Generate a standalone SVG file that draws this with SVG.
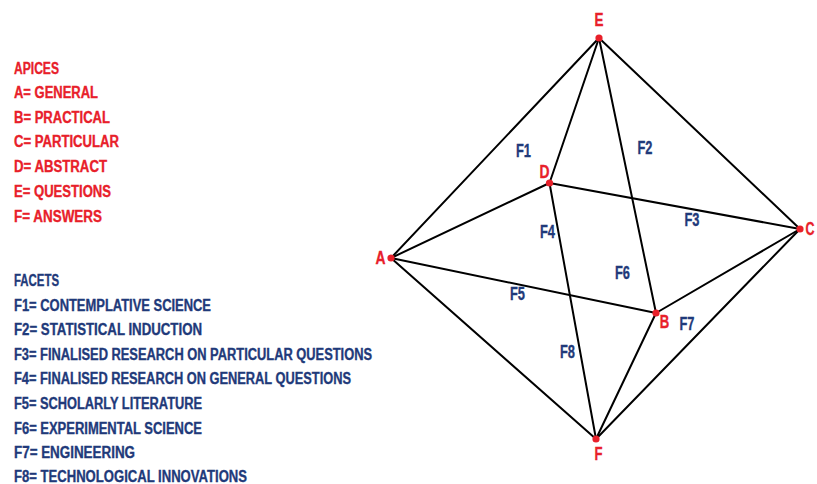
<svg xmlns="http://www.w3.org/2000/svg" width="817" height="484" viewBox="0 0 817 484">
<style>
text{font-family:"Liberation Sans",Arial,sans-serif;font-weight:bold;stroke-width:0.35px}
.r{fill:#e8202a;stroke:#e8202a}
.b{fill:#1f3a7a;stroke:#1f3a7a}
.lg{font-size:16px}
.vl{font-size:18px;text-anchor:middle}
.fl{font-size:18px;text-anchor:middle}
.e{stroke:#000;stroke-width:2;fill:none;stroke-linecap:round}
.dot{fill:#e8202a}
</style>
<rect width="817" height="484" fill="#fff"/>
<g id="legend-apices" class="r lg">
<text x="14" y="73.5" textLength="45" lengthAdjust="spacingAndGlyphs">APICES</text>
<text x="14" y="98.3" textLength="84" lengthAdjust="spacingAndGlyphs">A= GENERAL</text>
<text x="14" y="122.7" textLength="96" lengthAdjust="spacingAndGlyphs">B= PRACTICAL</text>
<text x="14" y="147" textLength="105" lengthAdjust="spacingAndGlyphs">C= PARTICULAR</text>
<text x="14" y="171.7" textLength="93" lengthAdjust="spacingAndGlyphs">D= ABSTRACT</text>
<text x="14" y="196.5" textLength="97" lengthAdjust="spacingAndGlyphs">E= QUESTIONS</text>
<text x="14" y="221.5" textLength="88" lengthAdjust="spacingAndGlyphs">F= ANSWERS</text>
</g>
<g id="legend-facets" class="b lg">
<text x="14" y="286" textLength="45" lengthAdjust="spacingAndGlyphs">FACETS</text>
<text x="14" y="310.7" textLength="197" lengthAdjust="spacingAndGlyphs">F1= CONTEMPLATIVE SCIENCE</text>
<text x="14" y="335.2" textLength="188" lengthAdjust="spacingAndGlyphs">F2= STATISTICAL INDUCTION</text>
<text x="14" y="359.8" textLength="358" lengthAdjust="spacingAndGlyphs">F3= FINALISED RESEARCH ON PARTICULAR QUESTIONS</text>
<text x="14" y="384.4" textLength="337" lengthAdjust="spacingAndGlyphs">F4= FINALISED RESEARCH ON GENERAL QUESTIONS</text>
<text x="14" y="409" textLength="188" lengthAdjust="spacingAndGlyphs">F5= SCHOLARLY LITERATURE</text>
<text x="14" y="433.6" textLength="188" lengthAdjust="spacingAndGlyphs">F6= EXPERIMENTAL SCIENCE</text>
<text x="14" y="458.2" textLength="121" lengthAdjust="spacingAndGlyphs">F7= ENGINEERING</text>
<text x="14" y="481.8" textLength="233" lengthAdjust="spacingAndGlyphs">F8= TECHNOLOGICAL INNOVATIONS</text>
</g>
<g id="connectors">
<line class="e" x1="599" y1="38" x2="391" y2="258"/>
<line class="e" x1="599" y1="38" x2="549.5" y2="183" stroke-width="2.6"/>
<line class="e" x1="599" y1="38" x2="656" y2="313"/>
<line class="e" x1="599" y1="38" x2="800" y2="229"/>
<line class="e" x1="391" y1="258" x2="549.5" y2="183"/>
<line class="e" x1="549.5" y1="183" x2="800" y2="229"/>
<line class="e" x1="391" y1="258" x2="656" y2="313"/>
<line class="e" x1="656" y1="313" x2="800" y2="229"/>
<line class="e" x1="391" y1="258" x2="596" y2="439"/>
<line class="e" x1="549.5" y1="183" x2="596" y2="439"/>
<line class="e" x1="656" y1="313" x2="596" y2="439"/>
<line class="e" x1="800" y1="229" x2="596" y2="439"/>
</g>
<g id="node-E"><circle class="dot" cx="599" cy="38" r="3.6"/><text class="r vl" x="599" y="26" textLength="9" lengthAdjust="spacingAndGlyphs">E</text></g>
<g id="node-D"><circle class="dot" cx="549.5" cy="183" r="3.6"/><text class="r vl" x="544.5" y="178" textLength="10" lengthAdjust="spacingAndGlyphs">D</text></g>
<g id="node-C"><circle class="dot" cx="800" cy="229" r="3.6"/><text class="r vl" x="810" y="234.5" textLength="9" lengthAdjust="spacingAndGlyphs">C</text></g>
<g id="node-A"><circle class="dot" cx="391" cy="258" r="3.6"/><text class="r vl" x="380.5" y="263.5" textLength="10" lengthAdjust="spacingAndGlyphs">A</text></g>
<g id="node-B"><circle class="dot" cx="656" cy="313" r="3.6"/><text class="r vl" x="664.5" y="328" textLength="9.5" lengthAdjust="spacingAndGlyphs">B</text></g>
<g id="node-F"><circle class="dot" cx="596" cy="439" r="3.6"/><text class="r vl" x="598.5" y="460" textLength="8" lengthAdjust="spacingAndGlyphs">F</text></g>
<g id="facets" class="b">
<text class="fl" x="523.5" y="156.5" textLength="15" lengthAdjust="spacingAndGlyphs">F1</text>
<text class="fl" x="645" y="154" textLength="15" lengthAdjust="spacingAndGlyphs">F2</text>
<text class="fl" x="692" y="226" textLength="15" lengthAdjust="spacingAndGlyphs">F3</text>
<text class="fl" x="547.5" y="237.5" textLength="15" lengthAdjust="spacingAndGlyphs">F4</text>
<text class="fl" x="517.5" y="300" textLength="15" lengthAdjust="spacingAndGlyphs">F5</text>
<text class="fl" x="622.5" y="279" textLength="15" lengthAdjust="spacingAndGlyphs">F6</text>
<text class="fl" x="687" y="330" textLength="15" lengthAdjust="spacingAndGlyphs">F7</text>
<text class="fl" x="567.5" y="357.5" textLength="15" lengthAdjust="spacingAndGlyphs">F8</text>
</g>
</svg>
